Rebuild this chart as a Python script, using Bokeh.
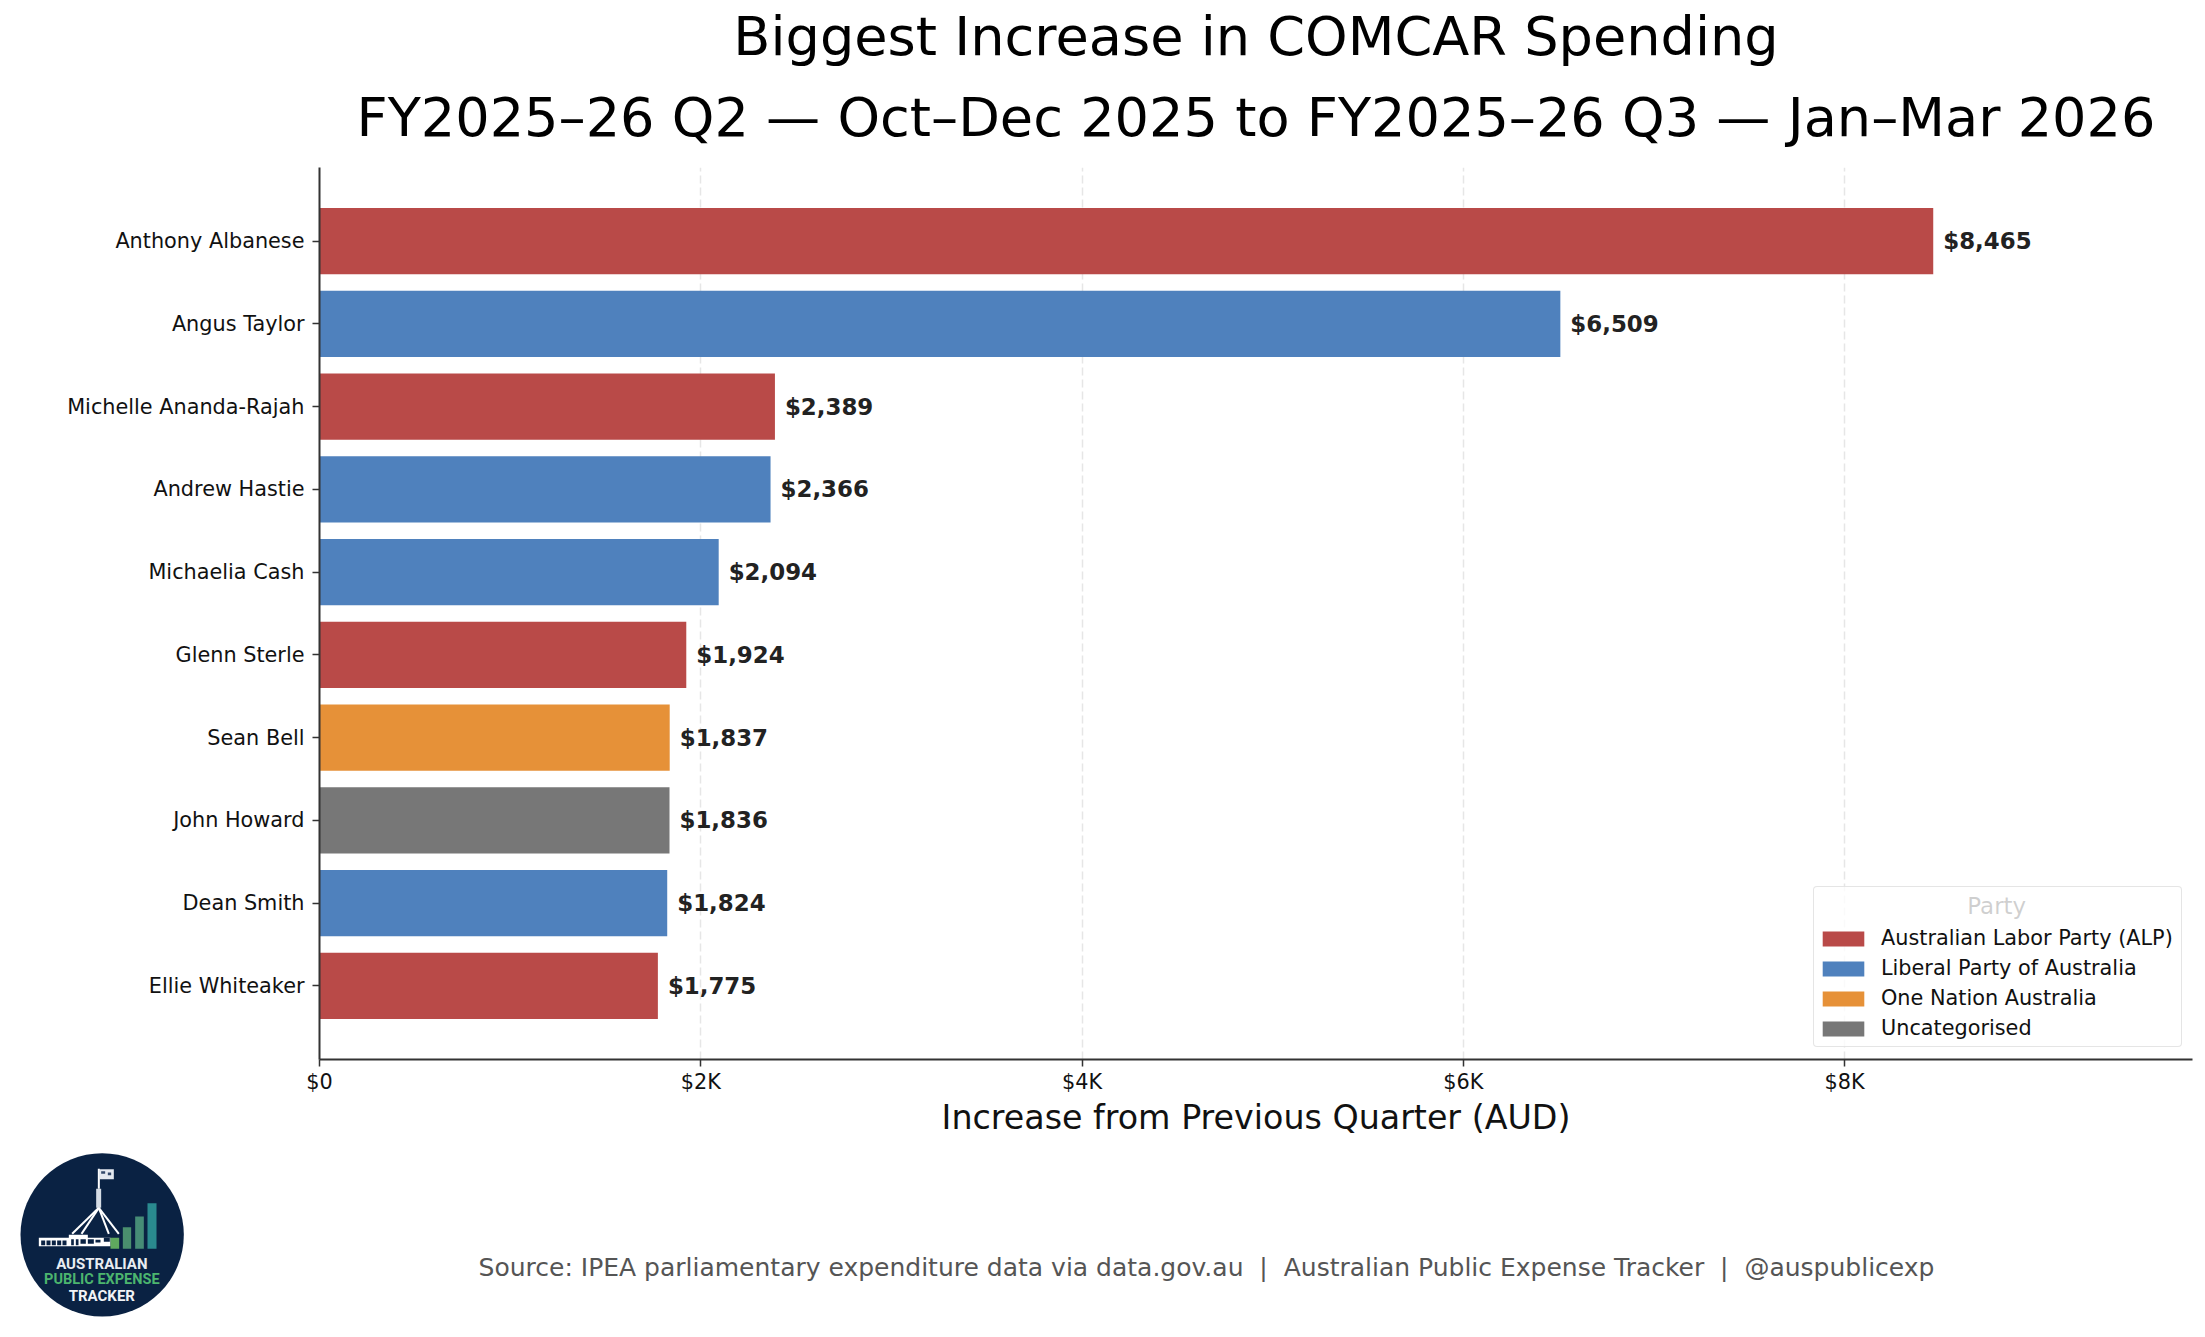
from bokeh.plotting import figure
from bokeh.models import ColumnDataSource, Range1d, FixedTicker, Title, Legend, Label
from bokeh.layouts import column
from bokeh.core.properties import value
from bokeh.embed import file_html
from bokeh.resources import INLINE

names = ["Anthony Albanese", "Angus Taylor", "Michelle Ananda-Rajah", "Andrew Hastie", "Michaelia Cash",
         "Glenn Sterle", "Sean Bell", "John Howard", "Dean Smith", "Ellie Whiteaker"]
increases = [8465, 6509, 2389, 2366, 2094, 1924, 1837, 1836, 1824, 1775]
ALP, LIB, ON, UN = "Australian Labor Party (ALP)", "Liberal Party of Australia", "One Nation Australia", "Uncategorised"
parties = [ALP, LIB, ALP, LIB, LIB, ALP, ON, UN, LIB, ALP]
party_order = [ALP, LIB, ON, UN]
party_colors = {ALP: "#B94A48", LIB: "#4F81BD", ON: "#E69138", UN: "#777777"}
x_ticks = [0, 2000, 4000, 6000, 8000]
x_tick_labels = ["$0", "$2K", "$4K", "$6K", "$8K"]
title_lines = ["Biggest Increase in COMCAR Spending", "FY2025–26 Q2 — Oct–Dec 2025 to FY2025–26 Q3 — Jan–Mar 2026"]
x_label = "Increase from Previous Quarter (AUD)"
legend_title = "Party"
source_note = "Source: IPEA parliamentary expenditure data via data.gov.au \u00a0|\u00a0 Australian Public Expense Tracker \u00a0|\u00a0 @auspublicexp"

FONT = "DejaVu Sans"
n = len(names)
ypos = [n - 1 - i for i in range(n)]
MAIN_H = 1139

p = figure(width=2197, height=MAIN_H, output_backend="svg", toolbar_location=None,
           x_range=Range1d(0, 9825), y_range=Range1d(-0.89, 9.89),
           min_border_left=319, min_border_right=5, min_border_top=167, min_border_bottom=71,
           outline_line_color=None, background_fill_color="white")
p.frame_align = False

legend_items = []
for party in party_order:
    idx = [i for i in range(n) if parties[i] == party]
    src = ColumnDataSource(dict(y=[ypos[i] for i in idx], right=[increases[i] for i in idx]))
    r = p.hbar(y="y", right="right", left=0, height=0.8, source=src, color=party_colors[party], line_color=None)
    legend_items.append((party, [r]))

lab = ColumnDataSource(dict(x=increases, y=ypos, t=[f"${v:,}" for v in increases]))
p.text(x="x", y="y", text="t", source=lab, x_offset=10, y_offset=0, text_align="left", text_baseline="middle",
       text_font=value(FONT), text_font_style="bold", text_font_size="22.9px", text_color="#222222")

for line, gap in zip(reversed(title_lines), [38, -6]):
    p.add_layout(Title(text=line, align="center", text_font=FONT, text_font_size="54.17px",
                       text_font_style="normal", text_color="#000000",
                       standoff=gap, offset=0), "above")

xa = p.xaxis[0]
xa.ticker = FixedTicker(ticks=x_ticks)
xa.major_label_overrides = {t: l for t, l in zip(x_ticks, x_tick_labels)}
xa.axis_label = x_label
xa.axis_label_text_font = FONT
xa.axis_label_text_font_style = "normal"
xa.axis_label_text_font_size = "33.3px"
xa.axis_label_text_color = "#111111"
xa.axis_label_standoff = 1

ya = p.yaxis[0]
ya.ticker = FixedTicker(ticks=ypos)
ya.major_label_overrides = {y: nm for y, nm in zip(ypos, names)}

for a in (xa, ya):
    a.axis_line_color = "#333333"
    a.axis_line_width = 2
    a.major_tick_line_color = "#333333"
    a.major_tick_line_width = 1.5
    a.major_tick_in = 0
    a.major_tick_out = 7
    a.minor_tick_line_color = None
    a.major_label_text_font = FONT
    a.major_label_text_font_size = "20.8px"
    a.major_label_text_color = "#111111"
    a.major_label_standoff = 8
xa.major_label_standoff = 3

p.ygrid.visible = False
p.xgrid.grid_line_color = "#e6e6e6"
p.xgrid.grid_line_width = 1.5
p.xgrid.grid_line_dash = "8 4"

leg = Legend(items=legend_items, location=(1494, 12), title="\u00a0",
             title_text_font=FONT, title_text_font_size="22.9px", title_text_font_style="normal",
             title_text_color="#111111", title_standoff=7,
             label_text_font=FONT, label_text_font_size="20.8px", label_text_color="#111111",
             label_standoff=12, glyph_width=52, glyph_height=19, label_height=30, label_width=297,
             spacing=0, padding=3, margin=0,
             border_line_color="#cccccc", border_line_width=1.5, border_radius=4,
             background_fill_color="white", background_fill_alpha=0.8)
p.add_layout(leg, "center")
p.add_layout(Label(x=8798, y=0.96, text=legend_title, text_align="center", text_baseline="middle",
                   text_font=FONT, text_font_size="22.9px", text_color="#111111", level="overlay"))

# footer: logo and source note, in reference-pixel coordinates
f = figure(width=2197, height=1329 - MAIN_H, output_backend="svg", toolbar_location=None,
           x_range=Range1d(0, 2197), y_range=Range1d(1329, MAIN_H),
           x_axis_location=None, y_axis_location=None, outline_line_color=None,
           min_border=0, min_border_left=0, min_border_right=0, min_border_top=0, min_border_bottom=0)
f.frame_align = False
f.grid.visible = False


def zx(v):
    return v / 3


def zy(v):
    return 1130 + v / 3


f.circle(x=[zx(305)], y=[zy(313)], radius=245 / 3, color="#0A2243", line_color=None)
# parliament building
f.quad(left=[zx(115)], right=[zx(330)], top=[zy(322)], bottom=[zy(347)], color="white", line_color=None)
f.quad(left=[zx(v) for v in (122, 138, 154, 170, 186, 212, 226, 240, 262, 285, 310)],
       right=[zx(v) for v in (134, 150, 166, 182, 198, 220, 234, 256, 280, 300, 328)],
       top=[zy(v) for v in (330, 330, 330, 330, 330, 326, 326, 326, 326, 328, 322)],
       bottom=[zy(v) for v in (344, 344, 344, 344, 344, 344, 344, 340, 340, 336, 334)],
       color="#0A2243", line_color=None)
f.quad(left=[zx(205)], right=[zx(262)], top=[zy(313)], bottom=[zy(324)], color="white", line_color=None)
f.quad(left=[zx(287)], right=[zx(302)], top=[zy(175)], bottom=[zy(232)], color="#D5DCE4", line_color=None)
f.segment(x0=[zx(295)] * 4, y0=[zy(232)] * 4, x1=[zx(v) for v in (215, 243, 325, 355)], y1=[zy(310)] * 4,
          line_color="white", line_width=2)
f.segment(x0=[zx(295)], y0=[zy(175)], x1=[zx(295)], y1=[zy(115)], line_color="white", line_width=2)
f.quad(left=[zx(295)], right=[zx(340)], top=[zy(116)], bottom=[zy(146)], color="#E4E9EF", line_color=None)
f.quad(left=[zx(v) for v in (302, 322)], right=[zx(v) for v in (314, 332)], top=[zy(v) for v in (122, 126)],
       bottom=[zy(v) for v in (130, 134)], color="#33496A", line_color=None)
# logo bars
f.quad(left=[zx(v) for v in (330, 367, 404, 441)], right=[zx(v) for v in (356, 392, 430, 468)],
       top=[zy(v) for v in (322, 290, 258, 218)], bottom=[zy(355)] * 4,
       color=["#5FA85E", "#4A8F6E", "#468C76", "#2A8A8F"], line_color=None)
for txt, yy, col, size in [("AUSTRALIAN", 400, "#E9EDF2", "15px"), ("PUBLIC EXPENSE", 447, "#4CB56E", "14.5px"),
                           ("TRACKER", 495, "#F1F3F6", "15px")]:
    f.text(x=[zx(304)], y=[zy(yy)], text=[txt], text_align="center", text_baseline="middle",
           text_font=value("Roboto"), text_font_style="bold", text_font_size=size, text_color=col)
f.text(x=[1206], y=[1267], text=[source_note], text_align="center", text_baseline="middle",
       text_font=value(FONT), text_font_size="25px", text_color="#555555")

page = column(p, f, spacing=0)
open("out.html", "w").write(file_html(page, INLINE))
